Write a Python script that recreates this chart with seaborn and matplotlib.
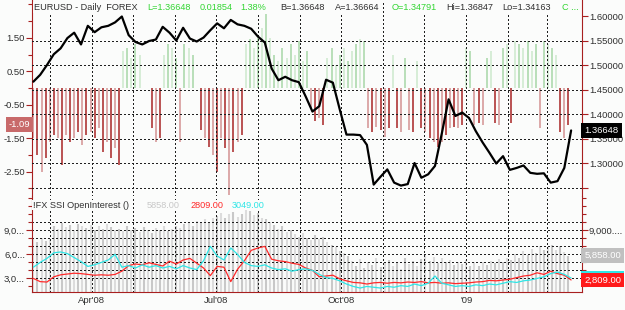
import numpy as np
import pandas as pd
import seaborn as sns
import matplotlib.pyplot as plt
import matplotlib.dates as mdates
from matplotlib.ticker import FixedLocator, FixedFormatter, FuncFormatter, MultipleLocator

# --- data ---
price_dates = pd.date_range('2008-02-18', '2009-03-19', freq='5D')
bar_dates = pd.date_range('2008-02-18', periods=132, freq='3D')

eurusd = [1.466, 1.480, 1.500, 1.522, 1.534, 1.555, 1.566, 1.542, 1.580, 1.567,
          1.577, 1.580, 1.587, 1.599, 1.561, 1.547, 1.542, 1.549, 1.552, 1.578,
          1.566, 1.550, 1.576, 1.554, 1.548, 1.556, 1.571, 1.585, 1.575, 1.592,
          1.583, 1.580, 1.574, 1.558, 1.546, 1.493, 1.469, 1.476, 1.469, 1.465,
          1.436, 1.405, 1.416, 1.470, 1.464, 1.410, 1.358, 1.358, 1.357, 1.337,
          1.256, 1.272, 1.287, 1.260, 1.254, 1.257, 1.300, 1.270, 1.277, 1.294,
          1.360, 1.430, 1.396, 1.403, 1.392, 1.365, 1.342, 1.321, 1.299, 1.314,
          1.286, 1.290, 1.295, 1.280, 1.278, 1.279, 1.260, 1.263, 1.290, 1.36648]

ssi = [-1.5, -2.0, -2.5, -2.1, -1.6, -1.4, -1.5, -2.3, -1.4, -1.6,
       -1.5, -1.3, -1.7, -1.4, -1.3, -1.5, -1.2, -1.9, -1.6, -2.1,
       -1.8, -2.3, 1.1, 1.2, 0.9, 1.3, 1.0, 0.0, 0.0, -1.2,
       -1.6, -1.5, 1.0, 1.3, 1.2, 0.9, -1.6, 1.3, 1.2, 1.0,
       0.0, -1.25, -1.5, -1.75, -2.0, -2.5, -1.5, -1.8, -3.2, -1.9,
       -1.6, -1.4, 1.3, 1.45, 1.2, 1.5, 1.8, 2.2, 1.5, 1.0,
       0.8, 1.2, 0.9, 1.3, 1.0, 1.4, 0.8, 1.1, -0.6, -1.0,
       -0.9, -1.1, 0.9, 1.2, 0.7, 1.0, 1.2, 0.8, 1.1, 1.3,
       1.45, 1.4, -1.2, -1.3, -1.15, -1.25, -1.45, -1.2, 1.0, -1.2,
       -1.3, 0.9, -1.25, -1.3, 0.8, -1.2, -1.3, -1.5, -1.6, -1.75,
       -1.6, -1.4, -1.2, -1.15, -1.2, -1.1, 1.2, 1.1, -1.1, -1.05,
       -1.1, 0.9, 1.1, -1.05, -1.1, 1.2, 1.3, -1.05, 1.4, 1.3,
       1.2, 1.4, 1.1, 1.3, -1.2, 1.4, 1.3, 1.2, 1.0, -1.3,
       -1.5, -1.09]

oi_total = [7900, 7600, 8000, 7700, 7900, 9600, 9200, 9900, 9400, 9700,
            9100, 9800, 9500, 9300, 9700, 9000, 9600, 9200, 9800, 9400,
            9100, 9200, 8900, 9500, 9000, 9300, 8800, 9400, 9100, 8700,
            9300, 9000, 9500, 8900, 9200, 9600, 9300, 9800, 10100, 9600,
            10200, 9900, 10400, 10000, 10600, 10800, 11200, 10500, 11000, 11300,
            10700, 11100, 11600, 11400, 10900, 11200, 10600, 10400, 10000, 9700,
            9200, 9500, 8800, 9000, 8500, 8200, 8700, 8000, 7800, 8400,
            7900, 8200, 7500, 7200, 6900, 6400, 6200, 5800, 5200, 4600,
            5400, 4300, 5000, 4700, 5600, 4400, 4900, 5300, 4500, 5100,
            4200, 5500, 4800, 5200, 4600, 5400, 6000, 5200, 5700, 4900,
            5500, 5000, 5300, 4700, 5100, 4800, 5300, 4600, 5100, 4500,
            5000, 4700, 5200, 4900, 5400, 5100, 5600, 5300, 6000, 5500,
            6400, 5900, 6700, 6200, 7000, 6500, 6900, 7200, 6600, 7000,
            6300, 5858]

oi_red = [3000, 2600, 2550, 3200, 3450, 3550, 3650, 3600, 3500, 3400,
          3450, 3400, 3500, 3900, 4600, 4800, 4700, 4950, 4750, 4550,
          5150, 4800, 5300, 5500, 4900, 4300, 3350, 4500, 4400, 2600,
          4150, 5200, 6500, 6800, 7000, 5400, 5200, 5100, 4900, 4750,
          4300, 4000, 3200, 3300, 3400, 2950, 2700, 2500, 2450, 2300,
          2450, 2500, 2400, 2500, 2450, 2550, 2500, 2600, 2450, 2500,
          2400, 2450, 2350, 2400, 2450, 2550, 2600, 2750, 2700, 2800,
          2900, 3100, 3300, 3400, 3700, 3500, 3900, 3600, 3400, 2809]

oi_cyan = [4400, 5000, 5500, 6200, 6300, 6100, 5600, 5100, 4500, 4700,
           5000, 5300, 6000, 4400, 4600, 4300, 4700, 4400, 4600, 4300,
           4500, 4200, 4600, 4300, 4100, 5200, 7000, 5800, 5300, 6800,
           6000, 5000, 4600, 4500, 4700, 4300, 4100, 4200, 3900, 4100,
           4200, 4000, 3500, 3100, 3000, 2700, 2300, 2000, 1800, 2000,
           1900, 1800, 2000, 1900, 2100, 2000, 2300, 2100, 2400, 3300,
           2400, 2200, 2000, 2100, 2000, 2200, 2100, 2300, 2200, 2400,
           2600, 2500, 2700, 2800, 3000, 3200, 3600, 3800, 3500, 3049]

bg = '#fbfcfb'
spine_red = '#a82020'
txt = '#303030'
fs = 6.8
grid_kw = dict(color='#202020', lw=0.8, ls=(0, (1, 2.5)), zorder=1.5, antialiased=False)

sns.set_style('white')
plt.rcParams['font.family'] = ['Liberation Sans', 'DejaVu Sans']
plt.rcParams['font.size'] = fs

fig = plt.figure(figsize=(6.25, 3.1), dpi=100, facecolor=bg)
ax = fig.add_axes([32/625, 114/310, 550/625, 196/310], facecolor=bg)
axb = fig.add_axes([32/625, 18/310, 550/625, 96/310], facecolor=bg, sharex=ax)
ax2 = ax.twinx()
axb2 = axb.twinx()

# --- top panel: SSI bars + price ---
ssi = np.array(ssi)
red_cols = ['#b54545' if i % 2 else '#d9a2a2' for i in range(len(ssi))]
grn_cols = ['#b3dcb3' if i % 2 else '#d4ecd4' for i in range(len(ssi))]
cols = [r if v < 0 else g for v, r, g in zip(ssi, red_cols, grn_cols)]
ax.vlines(bar_dates, 0, ssi, colors=cols, lw=1.3, zorder=1)
ax.set_ylim(-3.224, 2.627)

sns.lineplot(x=price_dates, y=eurusd, ax=ax2, color='black', lw=1.6, zorder=3)
ax2.set_ylim(1.2327, 1.6327)
ax2.set_ylabel('')

for v in np.arange(1.25, 1.56, 0.05):
    ax2.axhline(v, **grid_kw)

months = pd.date_range('2008-03-01', '2009-03-01', freq='MS')
for m in months:
    ax2.axvline(m, **grid_kw)
    axb.axvline(m, **grid_kw)

ax.yaxis.set_major_locator(FixedLocator([1.5, 0.5, -0.5, -1.5, -2.5]))
ax.yaxis.set_major_formatter(FuncFormatter(lambda v, p: f'{v:.2f}'))
ax.yaxis.set_minor_locator(MultipleLocator(0.5))
rticks = [1.25, 1.30, 1.35, 1.40, 1.45, 1.50, 1.55, 1.60]
ax2.yaxis.set_major_locator(FixedLocator(rticks))
ax2.yaxis.set_major_formatter(FixedFormatter([''] + [f'{v:.5f}' for v in rticks[1:]]))

# --- bottom panel: open interest ---
oi_total = np.array(oi_total)
gry = ['#c8c8c8' if i % 2 else '#dcdcdc' for i in range(len(oi_total))]
axb.vlines(bar_dates, 0, oi_total, colors=gry, lw=1.5, zorder=1)
sns.lineplot(x=price_dates, y=oi_red, ax=axb, color='#ff2a2a', lw=0.9, zorder=3)
sns.lineplot(x=price_dates, y=oi_cyan, ax=axb, color='#2ee6e6', lw=0.9, zorder=3)
axb.set_ylim(1306, 13285)
axb2.set_ylim(1306, 13285)
axb.set_ylabel('')
for v in range(3000, 10001, 1000):
    axb.axhline(v, **grid_kw)

axb.yaxis.set_major_locator(FixedLocator([3000, 6000, 9000]))
axb.yaxis.set_major_formatter(FixedFormatter(['3,0...', '6,0...', '9,0...']))
axb.yaxis.set_minor_locator(MultipleLocator(1000))
axb2.yaxis.set_major_locator(FixedLocator([9000]))
axb2.yaxis.set_major_formatter(FixedFormatter(['9,000....']))
axb2.yaxis.set_minor_locator(MultipleLocator(1000))

axb.set_xlim(pd.Timestamp('2008-02-17'), pd.Timestamp('2009-03-27'))
axb.xaxis.set_major_locator(mdates.MonthLocator(bymonth=[1, 4, 7, 10]))
axb.xaxis.set_minor_locator(mdates.MonthLocator())
axb.xaxis.set_major_formatter(FuncFormatter(
    lambda x, p: "'09" if mdates.num2date(x).month == 1 else mdates.num2date(x).strftime("%b'%y")))

# --- spines and ticks ---
for a in (ax, ax2, axb, axb2):
    for s in a.spines.values():
        s.set_visible(False)
    a.tick_params(which='both', colors=spine_red, labelcolor=txt, labelsize=fs,
                  direction='out', width=0.8)
    a.tick_params(which='major', length=4)
    a.tick_params(which='minor', length=3)
for a in (ax, axb):
    a.spines['left'].set_visible(True)
    a.spines['left'].set_color(spine_red)
for a in (ax2, axb2):
    a.spines['right'].set_visible(True)
    a.spines['right'].set_color(spine_red)
axb.spines['bottom'].set_visible(True)
axb.spines['bottom'].set_color(spine_red)
ax.tick_params(axis='x', which='both', bottom=False, labelbottom=False)
axb.tick_params(axis='x', which='both', length=3, pad=0)
ax.tick_params(axis='y', pad=1)
ax2.tick_params(axis='y', pad=1)
axb.tick_params(axis='y', pad=1)
axb2.tick_params(axis='y', pad=1)

# --- value boxes ---
ax2.text(1.004, eurusd[-1], '1.36648', transform=ax2.get_yaxis_transform(), ha='left',
         va='center', color='white', fontsize=fs,
         bbox=dict(facecolor='black', edgecolor='none', pad=2.4), zorder=5)
ax.text(-0.003, ssi[-1], '-1.09', transform=ax.get_yaxis_transform(), ha='right',
        va='center', color='white', fontsize=fs,
        bbox=dict(facecolor='#c86a6a', edgecolor='none', pad=2.0), zorder=5)
axb2.text(1.004, oi_total[-1], '5,858.00', transform=axb2.get_yaxis_transform(), ha='left',
          va='center', color='white', fontsize=fs,
          bbox=dict(facecolor='#c0c0c0', edgecolor='none', pad=2.0), zorder=5)
axb2.text(1.004, oi_cyan[-1], '3,049.00', transform=axb2.get_yaxis_transform(), ha='left',
          va='center', color='white', fontsize=fs,
          bbox=dict(facecolor='#2ee6e6', edgecolor='none', pad=2.0), zorder=5)
axb2.text(1.004, oi_red[-1], '2,809.00', transform=axb2.get_yaxis_transform(), ha='left',
          va='center', color='white', fontsize=fs,
          bbox=dict(facecolor='#ff1a1a', edgecolor='none', pad=2.0), zorder=6)

# --- headers ---
dark = '#303030'
green = '#33d633'
header = [("EURUSD - Daily  FOREX", 34, dark), ("L=1.36648", 147, green),
          ("0.01854", 200, green), ("1.38%", 240, green), ("B=1.36648", 280, dark),
          ("A=1.36664", 335, dark), ("O=1.34791", 392, green), ("Hi=1.36847", 446, dark),
          ("Lo=1.34163", 502, dark), ("C ...", 562, green)]
for s, x, c in header:
    fig.text(x/625, 1 - 7.5/310, s, color=c, fontsize=6.6, va='center', ha='left',
             zorder=10, bbox=dict(facecolor=bg, edgecolor='none', pad=0.6))

sub = [("!FX SSI OpenInterest ()", 33, dark), ("5858.00", 147, '#c8c8c8'),
       ("2809.00", 190, '#ff2a2a'), ("3049.00", 232, '#2ee6e6')]
for s, x, c in sub:
    fig.text(x/625, 1 - 205/310, s, color=c, fontsize=6.6, va='center', ha='left',
             zorder=10, bbox=dict(facecolor=bg, edgecolor='none', pad=0.6))

fig.savefig('out.png', dpi=100, facecolor=bg)
